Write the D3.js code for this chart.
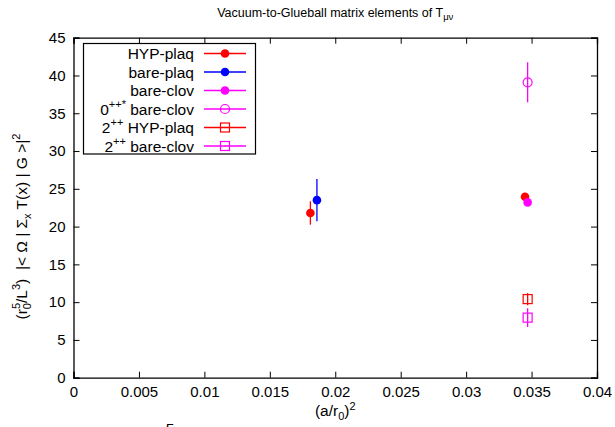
<!DOCTYPE html>
<html>
<head>
<meta charset="utf-8">
<script src="https://cdn.jsdelivr.net/npm/d3@7"></script>
<style>
  body { margin: 0; background: #fff; }
  text { font-family: "Liberation Sans", Arial, sans-serif; }
</style>
</head>
<body>
<div id="chart"></div>
<script>
/*
 * Data
 */
var seriesNames = ['HYP-plaq', 'bare-plaq', 'bare-clov', '0++* bare-clov', '2++ HYP-plaq', '2++ bare-clov'];
var seriesColors = ['#ff0000', '#0000ff', '#ff00ff', '#ff00ff', '#ff0000', '#ff00ff'];
var seriesShapes = ['dot', 'dot', 'dot', 'circle', 'square', 'square'];

// x = (a/r0)^2, y = value, e = error
var hypPlaq = [{x: 0.0181, y: 21.8, e: 1.55}, {x: 0.0345, y: 23.95, e: 0.3}];
var barePlaq = [{x: 0.0186, y: 23.5, e: 2.8}];
var bareClov = [{x: 0.0347, y: 23.2, e: 0.3}];
var excitedClov = [{x: 0.0347, y: 39.1, e: 2.65}];
var tensorHyp = [{x: 0.0347, y: 10.4, e: 0.8}];
var tensorClov = [{x: 0.0347, y: 7.95, e: 1.25}];
var seriesData = [hypPlaq, barePlaq, bareClov, excitedClov, tensorHyp, tensorClov];

var xTicks = [0, 0.005, 0.01, 0.015, 0.02, 0.025, 0.03, 0.035, 0.04];
var yTicks = [0, 5, 10, 15, 20, 25, 30, 35, 40, 45];

/*
 * Layout
 */
var width = 615, height = 427;
var margin = {left: 73.5, right: 18, top: 37.7, bottom: 49.3};
var fs = 15.5, fsTick = 15, fsSup = 11;

var svg = d3.select('#chart').append('svg')
    .attr('width', width)
    .attr('height', height);

var x = d3.scaleLinear().domain([0, 0.04]).range([margin.left, width - margin.right]);
var y = d3.scaleLinear().domain([0, 45]).range([height - margin.bottom, margin.top]);

// axes with inward ticks, mirrored on top/right
var tickLen = 6;
svg.append('g')
    .attr('transform', 'translate(0,' + y(0) + ')')
    .call(d3.axisBottom(x).tickValues(xTicks).tickSize(-tickLen).tickPadding(9)
        .tickFormat(function(d) { return d === 0 ? '0' : String(+d.toFixed(3)); }));
svg.append('g')
    .attr('transform', 'translate(0,' + y(45) + ')')
    .call(d3.axisTop(x).tickValues(xTicks).tickSize(-tickLen).tickFormat(''));
svg.append('g')
    .attr('transform', 'translate(' + x(0) + ',0)')
    .call(d3.axisLeft(y).tickValues(yTicks).tickSize(-tickLen).tickPadding(8));
svg.append('g')
    .attr('transform', 'translate(' + x(0.04) + ',0)')
    .call(d3.axisRight(y).tickValues(yTicks).tickSize(-tickLen).tickFormat(''));

svg.selectAll('.domain').attr('stroke', '#000').attr('stroke-width', 1.3);
svg.selectAll('.tick line').attr('stroke', '#000').attr('stroke-width', 1);
svg.selectAll('.tick text')
    .attr('font-size', fsTick)
    .attr('fill', '#000')
    .attr('font-family', '"Liberation Sans", Arial, sans-serif');

// title
var title = svg.append('text')
    .attr('x', x(0.02)).attr('y', 17)
    .attr('text-anchor', 'middle')
    .attr('font-size', 12.5);
title.append('tspan').text('Vacuum-to-Glueball matrix elements of T');
title.append('tspan').attr('dy', 3).attr('font-size', 9.5).text('\u03bc\u03bd');

// x label
var xlab = svg.append('text')
    .attr('x', x(0.02)).attr('y', 416)
    .attr('text-anchor', 'middle')
    .attr('font-size', fs);
xlab.append('tspan').text('(a/r');
xlab.append('tspan').attr('dy', 4).attr('font-size', fsSup).text('0');
xlab.append('tspan').attr('dy', -4).text(')');
xlab.append('tspan').attr('dy', -6).attr('font-size', fsSup).text('2');

// y label
var ylab = svg.append('text')
    .attr('transform', 'translate(27,' + y(20) + ') rotate(-90)')
    .attr('text-anchor', 'middle')
    .attr('font-size', fs)
    .style('white-space', 'pre');
ylab.append('tspan').text('(r');
ylab.append('tspan').attr('dy', 4).attr('font-size', fsSup).text('0');
ylab.append('tspan').attr('dx', -6).attr('dy', -11).attr('font-size', fsSup).text('5');
ylab.append('tspan').attr('dy', 7).text('/L');
ylab.append('tspan').attr('dy', -7).attr('font-size', fsSup).text('3');
ylab.append('tspan').attr('dy', 7).text(')  |< \u03a9 | \u03a3');
ylab.append('tspan').attr('dy', 4).attr('font-size', fsSup).text('x');
ylab.append('tspan').attr('dy', -4).text(' T(x) | G >|');
ylab.append('tspan').attr('dy', -7).attr('font-size', fsSup).text('2');

// stray superscript from a caption below the figure
svg.append('text')
    .attr('x', 170).attr('y', 434)
    .attr('text-anchor', 'middle')
    .attr('font-size', fs)
    .text('5');

/*
 * Markers
 */
function drawMarker(sel, shape, color, cx, cy) {
    if (shape === 'dot') {
        sel.append('circle').attr('cx', cx).attr('cy', cy).attr('r', 4.3).attr('fill', color);
    } else if (shape === 'circle') {
        sel.append('circle').attr('cx', cx).attr('cy', cy).attr('r', 4.5)
            .attr('fill', 'none').attr('stroke', color).attr('stroke-width', 1.2);
    } else {
        sel.append('rect').attr('x', cx - 4.5).attr('y', cy - 4.5)
            .attr('width', 9).attr('height', 9)
            .attr('fill', 'none').attr('stroke', color).attr('stroke-width', 1.2);
        sel.append('circle').attr('cx', cx).attr('cy', cy).attr('r', 0.7).attr('fill', color);
    }
}

var plot = svg.append('g');
seriesData.forEach(function(data, i) {
    var color = seriesColors[i];
    var g = plot.append('g');
    data.forEach(function(d) {
        g.append('line')
            .attr('x1', x(d.x)).attr('x2', x(d.x))
            .attr('y1', y(d.y - d.e)).attr('y2', y(d.y + d.e))
            .attr('stroke', color).attr('stroke-width', 1.3);
        drawMarker(g, seriesShapes[i], color, x(d.x), y(d.y));
    });
});

/*
 * Legend
 */
var legend = svg.append('g');
legend.append('rect')
    .attr('x', 83.5).attr('y', 43.5)
    .attr('width', 172).attr('height', 110.5)
    .attr('fill', '#fff').attr('stroke', '#000').attr('stroke-width', 1.2);

seriesNames.forEach(function(name, i) {
    var cy = 53.5 + i * 18.5;
    var t = legend.append('text')
        .attr('x', 194).attr('y', cy + 5.5)
        .attr('text-anchor', 'end')
        .attr('font-size', fs);
    var m = name.match(/^(\d)(\+\+\*?) (.*)$/);
    if (m) {
        t.append('tspan').text(m[1]);
        t.append('tspan').attr('dy', -7).attr('font-size', fsSup).text(m[2]);
        t.append('tspan').attr('dy', 7).text(' ' + m[3]);
    } else {
        t.text(name);
    }
    legend.append('line')
        .attr('x1', 204).attr('x2', 246)
        .attr('y1', cy).attr('y2', cy)
        .attr('stroke', seriesColors[i]).attr('stroke-width', 1.3);
    drawMarker(legend, seriesShapes[i], seriesColors[i], 225, cy);
});
</script>
</body>
</html>
